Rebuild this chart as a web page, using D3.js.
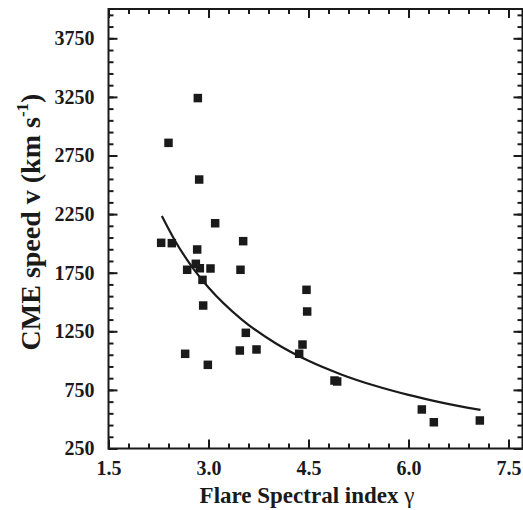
<!DOCTYPE html>
<html>
<head>
<meta charset="utf-8">
<script src="https://cdn.jsdelivr.net/npm/d3@7"></script>
<style>
  html, body { margin: 0; padding: 0; background: #fff; }
  svg { display: block; }
  text { font-family: "Liberation Serif", "Times New Roman", serif; font-weight: bold; fill: #1a1a1a; }
</style>
</head>
<body>
<svg id="chart" width="523" height="510"></svg>
<script>
// Data
const gammaValues = [2.84, 2.40, 2.86, 3.10, 2.29, 2.45, 3.52, 2.83, 2.68, 2.81, 2.87, 3.03, 3.48, 2.91, 2.92, 3.56, 2.65, 3.47, 3.72, 2.99, 4.47, 4.48, 4.41, 4.36, 4.89, 4.93, 6.20, 6.38, 7.07];
const speedValues = [3240, 2858, 2545, 2172, 2005, 2002, 2019, 1948, 1775, 1826, 1788, 1786, 1775, 1689, 1470, 1237, 1058, 1086, 1095, 964, 1604, 1419, 1137, 1058, 830, 822, 583, 474, 489];
const fitGamma = [2.30, 2.50, 2.75, 3.00, 3.50, 4.00, 4.50, 5.00, 5.50, 6.00, 6.50, 7.08];
const fitSpeed = [2234, 2021, 1802, 1624, 1350, 1150, 998, 880, 785, 707, 642, 579];
const xTickValues = [1.5, 3.0, 4.5, 6.0, 7.5];
const yTickValues = [250, 750, 1250, 1750, 2250, 2750, 3250, 3750];
const xTitle = "Flare Spectral index ";
const xTitleSymbol = "γ";
const yTitleMain = "CME speed v (km s";
const yTitleSup = "-1";

const svg = d3.select("#chart");
const L = 108.5, R = 522.5, T = 9, B = 448.5;
const x = d3.scaleLinear().domain([1.5, 7.71]).range([L, R]);
const y = d3.scaleLinear().domain([250, 4000]).range([B, T]);
const ink = "#1a1a1a";

const xMinor = d3.range(1.5, 7.71, 0.3).map(v => +v.toFixed(2));
const yMinor = d3.range(250, 4000.1, 100);

function styleAxis(g) {
  g.select(".domain").remove();
  g.selectAll("line").attr("stroke", ink).attr("stroke-width", 2);
}

// minor ticks (inward on all four sides)
svg.append("g").attr("transform", `translate(0,${B})`)
  .call(d3.axisTop(x).tickValues(xMinor).tickSize(5).tickFormat("")).call(styleAxis);
svg.append("g").attr("transform", `translate(0,${T})`)
  .call(d3.axisBottom(x).tickValues(xMinor).tickSize(5).tickFormat("")).call(styleAxis);
svg.append("g").attr("transform", `translate(${L},0)`)
  .call(d3.axisRight(y).tickValues(yMinor).tickSize(5).tickFormat("")).call(styleAxis);
svg.append("g").attr("transform", `translate(${R},0)`)
  .call(d3.axisLeft(y).tickValues(yMinor).tickSize(5).tickFormat("")).call(styleAxis);

// major ticks
svg.append("g").attr("transform", `translate(0,${B})`)
  .call(d3.axisTop(x).tickValues(xTickValues).tickSize(9).tickFormat("")).call(styleAxis);
svg.append("g").attr("transform", `translate(0,${T})`)
  .call(d3.axisBottom(x).tickValues(xTickValues).tickSize(9).tickFormat("")).call(styleAxis);
svg.append("g").attr("transform", `translate(${L},0)`)
  .call(d3.axisRight(y).tickValues(yTickValues).tickSize(9).tickFormat("")).call(styleAxis);
svg.append("g").attr("transform", `translate(${R},0)`)
  .call(d3.axisLeft(y).tickValues(yTickValues).tickSize(9).tickFormat("")).call(styleAxis);

// frame
svg.append("rect").attr("x", L).attr("y", T).attr("width", R - L).attr("height", B - T)
  .attr("fill", "none").attr("stroke", ink).attr("stroke-width", 2);

// tick labels
const xLab = svg.append("g").attr("transform", `translate(0,${B})`)
  .call(d3.axisBottom(x).tickValues(xTickValues).tickSize(0).tickPadding(12).tickFormat(d3.format(".1f")));
xLab.select(".domain").remove();
xLab.selectAll("text").attr("font-size", 20).attr("font-family", "Liberation Serif").attr("font-weight", "bold").attr("fill", ink);

const yLab = svg.append("g").attr("transform", `translate(${L},0)`)
  .call(d3.axisLeft(y).tickValues(yTickValues).tickSize(0).tickPadding(14).tickFormat(d3.format("d")));
yLab.select(".domain").remove();
yLab.selectAll("text").attr("font-size", 20).attr("font-family", "Liberation Serif").attr("font-weight", "bold").attr("fill", ink);

// fit curve
const line = d3.line().x(d => x(d[0])).y(d => y(d[1])).curve(d3.curveMonotoneX);
svg.append("path").datum(fitGamma.map((g, i) => [g, fitSpeed[i]]))
  .attr("d", line).attr("fill", "none").attr("stroke", ink).attr("stroke-width", 2.2);

// points
const s = 8.5;
svg.append("g").selectAll("rect").data(gammaValues.map((g, i) => [g, speedValues[i]]))
  .join("rect")
  .attr("x", d => x(d[0]) - s / 2).attr("y", d => y(d[1]) - s / 2)
  .attr("width", s).attr("height", s).attr("fill", ink);

// axis titles
const xt = svg.append("text").attr("x", 307).attr("y", 503).attr("text-anchor", "middle").attr("font-size", 23);
xt.append("tspan").text(xTitle);
xt.append("tspan").attr("font-weight", "normal").text(xTitleSymbol);

const yt = svg.append("text").attr("transform", "translate(40,222) rotate(-90)").attr("text-anchor", "middle").attr("font-size", 28);
yt.append("tspan").text(yTitleMain);
yt.append("tspan").attr("font-size", 17).attr("dy", -12).text(yTitleSup);
yt.append("tspan").attr("dy", 12).text(")");
</script>
</body>
</html>
